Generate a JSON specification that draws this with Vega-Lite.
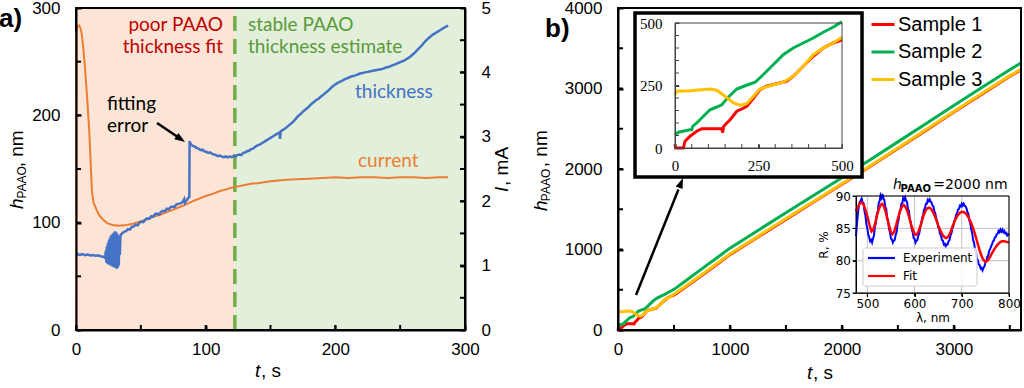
{
"$schema":"https://vega.github.io/schema/vega-lite/v6.json",
"width":1024,"height":388,"padding":0,"autosize":"none","background":"white",
"config":{"view":{"stroke":null},"axis":{"domainColor":"black","domainWidth":2,"tickColor":"black","tickWidth":2,"tickSize":-5,"labelFont":"Liberation Sans","labelFontSize":17,"labelColor":"black","labelFlush":false,"labelOverlap":false,"labelBound":false,"grid":false,"title":null}},
"datasets":{
"thick":[{"t":0.5,"h":72},{"t":1.5,"h":70.5},{"t":3,"h":70},{"t":5,"h":70.8},{"t":7,"h":69.6},{"t":9,"h":70.2},{"t":11,"h":69.4},{"t":13,"h":69.9},{"t":15,"h":69.1},{"t":17,"h":69.5},{"t":19,"h":68.7},{"t":21,"h":68.2},{"t":22.5,"h":67},{"t":23,"h":74},{"t":23.4,"h":63},{"t":23.8,"h":78},{"t":24.2,"h":62},{"t":24.6,"h":81},{"t":25,"h":61},{"t":25.4,"h":84},{"t":25.8,"h":61},{"t":26.2,"h":86},{"t":26.6,"h":60},{"t":27,"h":88},{"t":27.4,"h":60},{"t":27.8,"h":89},{"t":28.2,"h":59},{"t":28.6,"h":90},{"t":29,"h":59},{"t":29.4,"h":91},{"t":29.8,"h":58},{"t":30.2,"h":92},{"t":30.6,"h":58},{"t":31,"h":91},{"t":31.4,"h":57},{"t":31.8,"h":90},{"t":32.2,"h":58},{"t":32.6,"h":88},{"t":33,"h":60},{"t":33.4,"h":86},{"t":33.8,"h":70},{"t":34.3,"h":88},{"t":35.5,"h":90},{"t":37,"h":91.5},{"t":38.5,"h":92},{"t":40,"h":94},{"t":41.5,"h":93.5},{"t":43,"h":96},{"t":44.5,"h":96.5},{"t":46,"h":98},{"t":47.5,"h":97.5},{"t":49,"h":100},{"t":50.5,"h":101},{"t":52,"h":100.5},{"t":53.5,"h":103},{"t":55,"h":104},{"t":56.5,"h":103.5},{"t":58,"h":106},{"t":59.5,"h":105.5},{"t":61,"h":108},{"t":62.5,"h":108.5},{"t":64,"h":107.5},{"t":65.5,"h":110},{"t":67,"h":111},{"t":68.5,"h":110.5},{"t":70,"h":113},{"t":71.5,"h":112.5},{"t":73,"h":114.5},{"t":74.5,"h":115},{"t":76,"h":114.5},{"t":77.5,"h":117},{"t":79,"h":117.5},{"t":80.5,"h":118},{"t":82,"h":119},{"t":83.5,"h":122},{"t":84,"h":118.5},{"t":85.5,"h":121},{"t":86.5,"h":123},{"t":87.4,"h":124},{"t":87.6,"h":176},{"t":88.5,"h":173},{"t":90,"h":171.5},{"t":91.5,"h":171},{"t":93,"h":169.5},{"t":94.5,"h":169},{"t":96,"h":167.5},{"t":97.5,"h":168},{"t":99,"h":166.5},{"t":100.5,"h":166},{"t":102,"h":165},{"t":103.5,"h":165.5},{"t":105,"h":164},{"t":106.5,"h":163.5},{"t":108,"h":163},{"t":109.5,"h":162},{"t":111,"h":162.5},{"t":112.5,"h":161.5},{"t":114,"h":161},{"t":115.5,"h":161.8},{"t":117,"h":160.8},{"t":118.5,"h":161.5},{"t":120,"h":161},{"t":121.5,"h":162},{"t":123,"h":161.5},{"t":124.5,"h":163},{"t":126,"h":163.5},{"t":127.5,"h":163},{"t":129,"h":165},{"t":130.5,"h":165.5},{"t":132,"h":166.5},{"t":133.5,"h":167},{"t":135,"h":168.5},{"t":136.5,"h":169},{"t":138,"h":170.5},{"t":140,"h":172},{"t":142,"h":173},{"t":144,"h":174.5},{"t":146,"h":176},{"t":148,"h":177.5},{"t":150,"h":179},{"t":152,"h":180.5},{"t":154,"h":182},{"t":156,"h":183.5},{"t":157,"h":184},{"t":157.4,"h":178},{"t":157.8,"h":185},{"t":159,"h":186},{"t":161,"h":187.5},{"t":163,"h":189.5},{"t":165,"h":191.5},{"t":167,"h":193.5},{"t":169,"h":196},{"t":171,"h":199},{"t":173,"h":201},{"t":175,"h":203.5},{"t":177,"h":205.5},{"t":179,"h":207.5},{"t":181,"h":210},{"t":183,"h":212},{"t":185,"h":214},{"t":187,"h":215.5},{"t":189,"h":217.5},{"t":191,"h":219.5},{"t":193,"h":221.5},{"t":195,"h":223.5},{"t":197,"h":226},{"t":199,"h":228},{"t":201,"h":229.5},{"t":203,"h":231},{"t":205,"h":232},{"t":207,"h":233.5},{"t":209,"h":234.5},{"t":211,"h":235.5},{"t":213,"h":236.5},{"t":215,"h":237},{"t":217,"h":238},{"t":219,"h":239},{"t":221,"h":239.5},{"t":223,"h":240},{"t":225,"h":240.5},{"t":227,"h":241},{"t":229,"h":241.5},{"t":231,"h":242},{"t":233,"h":242.5},{"t":235,"h":243},{"t":237,"h":243.5},{"t":239,"h":244.5},{"t":241,"h":245},{"t":243,"h":246},{"t":245,"h":247},{"t":247,"h":248},{"t":249,"h":249},{"t":251,"h":250},{"t":253,"h":251},{"t":255,"h":252.5},{"t":257,"h":254},{"t":259,"h":256},{"t":261,"h":258},{"t":263,"h":260.5},{"t":265,"h":263},{"t":267,"h":265.5},{"t":269,"h":268.5},{"t":271,"h":271},{"t":273,"h":273},{"t":275,"h":275},{"t":277,"h":276.5},{"t":279,"h":278},{"t":281,"h":279.5},{"t":283,"h":281},{"t":285,"h":282.5},{"t":287,"h":283.5}],
"curr":[{"t":0,"i":0},{"t":0.3,"i":4.6},{"t":1,"i":4.72},{"t":2.5,"i":4.73},{"t":3.5,"i":4.68},{"t":4.4,"i":4.6},{"t":5.5,"i":4.4},{"t":6.9,"i":4.08},{"t":8.7,"i":3.57},{"t":10.3,"i":3.06},{"t":11.3,"i":2.6},{"t":12.3,"i":2.15},{"t":13.5,"i":1.98},{"t":16,"i":1.86},{"t":18,"i":1.78},{"t":21,"i":1.71},{"t":24,"i":1.66},{"t":28,"i":1.63},{"t":33,"i":1.62},{"t":39,"i":1.63},{"t":44,"i":1.65},{"t":49,"i":1.68},{"t":55,"i":1.72},{"t":60,"i":1.76},{"t":65,"i":1.79},{"t":70,"i":1.83},{"t":75,"i":1.87},{"t":80,"i":1.91},{"t":85,"i":1.95},{"t":90,"i":2.0},{"t":95,"i":2.04},{"t":100,"i":2.08},{"t":105,"i":2.11},{"t":110,"i":2.15},{"t":115,"i":2.18},{"t":120,"i":2.21},{"t":125,"i":2.23},{"t":130,"i":2.25},{"t":135,"i":2.27},{"t":140,"i":2.28},{"t":150,"i":2.31},{"t":160,"i":2.33},{"t":170,"i":2.34},{"t":180,"i":2.35},{"t":190,"i":2.36},{"t":200,"i":2.37},{"t":210,"i":2.36},{"t":220,"i":2.37},{"t":230,"i":2.37},{"t":240,"i":2.36},{"t":250,"i":2.37},{"t":260,"i":2.37},{"t":270,"i":2.36},{"t":280,"i":2.37},{"t":287,"i":2.37}],
"samp":[{"s":"Sample 1","t":0,"h":15},{"s":"Sample 1","t":2,"h":0},{"s":"Sample 1","t":25,"h":0},{"s":"Sample 1","t":30,"h":27},{"s":"Sample 1","t":45,"h":47},{"s":"Sample 1","t":65,"h":67},{"s":"Sample 1","t":80,"h":77},{"s":"Sample 1","t":140,"h":77},{"s":"Sample 1","t":143,"h":62},{"s":"Sample 1","t":145,"h":85},{"s":"Sample 1","t":150,"h":93},{"s":"Sample 1","t":165,"h":113},{"s":"Sample 1","t":185,"h":147},{"s":"Sample 1","t":200,"h":156},{"s":"Sample 1","t":215,"h":167},{"s":"Sample 1","t":235,"h":200},{"s":"Sample 1","t":254,"h":233},{"s":"Sample 1","t":274,"h":247},{"s":"Sample 1","t":304,"h":257},{"s":"Sample 1","t":334,"h":267},{"s":"Sample 1","t":354,"h":287},{"s":"Sample 1","t":384,"h":327},{"s":"Sample 1","t":414,"h":367},{"s":"Sample 1","t":444,"h":400},{"s":"Sample 1","t":474,"h":420},{"s":"Sample 1","t":500,"h":433},{"s":"Sample 1","t":600,"h":530},{"s":"Sample 1","t":700,"h":630},{"s":"Sample 1","t":800,"h":730},{"s":"Sample 1","t":900,"h":833},{"s":"Sample 1","t":1000,"h":936},{"s":"Sample 1","t":1250,"h":1155},{"s":"Sample 1","t":1500,"h":1374},{"s":"Sample 1","t":1750,"h":1592},{"s":"Sample 1","t":2000,"h":1810},{"s":"Sample 1","t":2250,"h":2030},{"s":"Sample 1","t":2500,"h":2254},{"s":"Sample 1","t":2750,"h":2479},{"s":"Sample 1","t":3000,"h":2707},{"s":"Sample 1","t":3250,"h":2930},{"s":"Sample 1","t":3500,"h":3152},{"s":"Sample 1","t":3600,"h":3232},
{"s":"Sample 2","t":0,"h":53},{"s":"Sample 2","t":10,"h":63},{"s":"Sample 2","t":45,"h":73},{"s":"Sample 2","t":50,"h":73},{"s":"Sample 2","t":53,"h":87},{"s":"Sample 2","t":65,"h":100},{"s":"Sample 2","t":85,"h":127},{"s":"Sample 2","t":105,"h":153},{"s":"Sample 2","t":125,"h":164},{"s":"Sample 2","t":140,"h":173},{"s":"Sample 2","t":160,"h":204},{"s":"Sample 2","t":185,"h":236},{"s":"Sample 2","t":210,"h":249},{"s":"Sample 2","t":240,"h":263},{"s":"Sample 2","t":264,"h":293},{"s":"Sample 2","t":294,"h":333},{"s":"Sample 2","t":324,"h":373},{"s":"Sample 2","t":354,"h":400},{"s":"Sample 2","t":384,"h":420},{"s":"Sample 2","t":414,"h":440},{"s":"Sample 2","t":444,"h":463},{"s":"Sample 2","t":474,"h":484},{"s":"Sample 2","t":500,"h":505},{"s":"Sample 2","t":600,"h":605},{"s":"Sample 2","t":700,"h":710},{"s":"Sample 2","t":800,"h":812},{"s":"Sample 2","t":900,"h":914},{"s":"Sample 2","t":1000,"h":1017},{"s":"Sample 2","t":1250,"h":1237},{"s":"Sample 2","t":1500,"h":1456},{"s":"Sample 2","t":1750,"h":1674},{"s":"Sample 2","t":2000,"h":1892},{"s":"Sample 2","t":2250,"h":2112},{"s":"Sample 2","t":2500,"h":2337},{"s":"Sample 2","t":2750,"h":2562},{"s":"Sample 2","t":3000,"h":2790},{"s":"Sample 2","t":3250,"h":3012},{"s":"Sample 2","t":3500,"h":3232},{"s":"Sample 2","t":3600,"h":3317},
{"s":"Sample 3","t":0,"h":213},{"s":"Sample 3","t":5,"h":227},{"s":"Sample 3","t":45,"h":229},{"s":"Sample 3","t":105,"h":236},{"s":"Sample 3","t":125,"h":231},{"s":"Sample 3","t":150,"h":207},{"s":"Sample 3","t":175,"h":180},{"s":"Sample 3","t":195,"h":171},{"s":"Sample 3","t":215,"h":177},{"s":"Sample 3","t":235,"h":207},{"s":"Sample 3","t":254,"h":236},{"s":"Sample 3","t":284,"h":249},{"s":"Sample 3","t":324,"h":263},{"s":"Sample 3","t":354,"h":287},{"s":"Sample 3","t":384,"h":327},{"s":"Sample 3","t":414,"h":373},{"s":"Sample 3","t":444,"h":400},{"s":"Sample 3","t":474,"h":420},{"s":"Sample 3","t":500,"h":443},{"s":"Sample 3","t":600,"h":540},{"s":"Sample 3","t":700,"h":640},{"s":"Sample 3","t":800,"h":740},{"s":"Sample 3","t":900,"h":842},{"s":"Sample 3","t":1000,"h":945},{"s":"Sample 3","t":1250,"h":1163},{"s":"Sample 3","t":1500,"h":1382},{"s":"Sample 3","t":1750,"h":1600},{"s":"Sample 3","t":2000,"h":1818},{"s":"Sample 3","t":2250,"h":2038},{"s":"Sample 3","t":2500,"h":2262},{"s":"Sample 3","t":2750,"h":2487},{"s":"Sample 3","t":3000,"h":2715},{"s":"Sample 3","t":3250,"h":2938},{"s":"Sample 3","t":3500,"h":3160},{"s":"Sample 3","t":3600,"h":3240}],
"fit":[{"l":476,"r":87.6},{"l":480,"r":88.3},{"l":484,"r":88.85},{"l":488,"r":89.0},{"l":492,"r":88.7},{"l":496,"r":87.9},{"l":500,"r":86.9},{"l":504,"r":85.7},{"l":507,"r":84.9},{"l":509,"r":84.5},{"l":512,"r":84.7},{"l":516,"r":85.6},{"l":520,"r":86.8},{"l":524,"r":87.9},{"l":528,"r":88.6},{"l":531,"r":88.8},{"l":535,"r":88.4},{"l":539,"r":87.5},{"l":543,"r":86.3},{"l":547,"r":85.1},{"l":550,"r":84.4},{"l":553,"r":84.1},{"l":557,"r":84.5},{"l":561,"r":85.5},{"l":565,"r":86.6},{"l":569,"r":87.6},{"l":573,"r":88.3},{"l":577,"r":88.6},{"l":581,"r":88.3},{"l":585,"r":87.6},{"l":589,"r":86.6},{"l":593,"r":85.5},{"l":597,"r":84.6},{"l":600,"r":84.15},{"l":603,"r":84.0},{"l":607,"r":84.3},{"l":611,"r":85.0},{"l":615,"r":86.0},{"l":619,"r":87.0},{"l":623,"r":87.7},{"l":627,"r":88.1},{"l":631,"r":88.2},{"l":635,"r":88.0},{"l":640,"r":87.4},{"l":645,"r":86.5},{"l":650,"r":85.5},{"l":655,"r":84.6},{"l":660,"r":83.9},{"l":664,"r":83.6},{"l":667,"r":83.5},{"l":671,"r":83.7},{"l":676,"r":84.4},{"l":681,"r":85.4},{"l":686,"r":86.3},{"l":691,"r":87.0},{"l":696,"r":87.4},{"l":700,"r":87.55},{"l":705,"r":87.5},{"l":710,"r":87.2},{"l":715,"r":86.6},{"l":720,"r":85.8},{"l":725,"r":84.8},{"l":730,"r":83.6},{"l":735,"r":82.3},{"l":740,"r":81.1},{"l":745,"r":80.2},{"l":750,"r":79.8},{"l":755,"r":80.0},{"l":760,"r":80.6},{"l":765,"r":81.3},{"l":770,"r":81.9},{"l":775,"r":82.4},{"l":780,"r":82.8},{"l":785,"r":83.0},{"l":790,"r":83.0},{"l":795,"r":82.9},{"l":800,"r":82.8}],
"exp":[{"l":476,"r":83.8},{"l":478,"r":85.6},{"l":480,"r":87.2},{"l":482,"r":88.4},{"l":484,"r":89.1},{"l":486,"r":89.3},{"l":488,"r":89.6},{"l":490,"r":89.0},{"l":492,"r":88.9},{"l":494,"r":87.6},{"l":496,"r":87.0},{"l":498,"r":85.6},{"l":500,"r":85.0},{"l":502,"r":84.0},{"l":504,"r":83.6},{"l":506,"r":83.0},{"l":508,"r":83.2},{"l":510,"r":82.8},{"l":512,"r":83.4},{"l":514,"r":83.9},{"l":516,"r":85.2},{"l":518,"r":85.8},{"l":520,"r":87.2},{"l":522,"r":87.6},{"l":524,"r":88.9},{"l":526,"r":89.2},{"l":528,"r":90.1},{"l":530,"r":89.7},{"l":532,"r":90.3},{"l":534,"r":89.6},{"l":536,"r":89.4},{"l":538,"r":88.3},{"l":540,"r":88.0},{"l":542,"r":86.6},{"l":544,"r":86.1},{"l":546,"r":84.9},{"l":548,"r":84.4},{"l":550,"r":83.4},{"l":552,"r":83.3},{"l":554,"r":82.8},{"l":556,"r":83.1},{"l":558,"r":83.2},{"l":560,"r":84.0},{"l":562,"r":84.4},{"l":564,"r":85.7},{"l":566,"r":86.2},{"l":568,"r":87.4},{"l":570,"r":87.8},{"l":572,"r":88.8},{"l":574,"r":88.9},{"l":576,"r":89.7},{"l":578,"r":89.4},{"l":580,"r":89.8},{"l":582,"r":89.3},{"l":584,"r":89.1},{"l":586,"r":88.0},{"l":588,"r":87.7},{"l":590,"r":86.4},{"l":592,"r":86.0},{"l":594,"r":84.9},{"l":596,"r":84.4},{"l":598,"r":83.5},{"l":600,"r":83.4},{"l":602,"r":82.8},{"l":604,"r":83.1},{"l":606,"r":83.2},{"l":608,"r":83.9},{"l":610,"r":84.2},{"l":612,"r":85.2},{"l":614,"r":85.6},{"l":616,"r":86.6},{"l":618,"r":87.0},{"l":620,"r":87.9},{"l":622,"r":88.1},{"l":624,"r":88.8},{"l":626,"r":88.8},{"l":628,"r":89.4},{"l":630,"r":89.2},{"l":632,"r":89.5},{"l":634,"r":89.1},{"l":636,"r":89.0},{"l":638,"r":88.5},{"l":640,"r":88.4},{"l":642,"r":87.6},{"l":644,"r":87.3},{"l":646,"r":86.5},{"l":648,"r":86.1},{"l":650,"r":85.2},{"l":652,"r":84.9},{"l":654,"r":84.1},{"l":656,"r":83.9},{"l":658,"r":83.2},{"l":660,"r":83.1},{"l":662,"r":82.5},{"l":664,"r":82.6},{"l":666,"r":82.2},{"l":668,"r":82.5},{"l":670,"r":82.5},{"l":672,"r":83.0},{"l":674,"r":83.2},{"l":676,"r":83.9},{"l":678,"r":84.2},{"l":680,"r":85.0},{"l":682,"r":85.3},{"l":684,"r":86.1},{"l":686,"r":86.4},{"l":688,"r":87.1},{"l":690,"r":87.3},{"l":692,"r":87.9},{"l":694,"r":88.0},{"l":696,"r":88.5},{"l":698,"r":88.4},{"l":700,"r":88.8},{"l":702,"r":88.5},{"l":704,"r":88.8},{"l":706,"r":88.5},{"l":708,"r":88.4},{"l":710,"r":88.1},{"l":712,"r":87.5},{"l":714,"r":87.2},{"l":716,"r":86.2},{"l":718,"r":85.8},{"l":720,"r":84.8},{"l":722,"r":84.3},{"l":724,"r":83.2},{"l":726,"r":82.8},{"l":728,"r":81.7},{"l":730,"r":81.3},{"l":732,"r":80.4},{"l":734,"r":80.1},{"l":736,"r":79.4},{"l":738,"r":79.3},{"l":740,"r":78.8},{"l":742,"r":78.9},{"l":744,"r":78.5},{"l":746,"r":78.9},{"l":748,"r":79.1},{"l":750,"r":79.7},{"l":752,"r":79.9},{"l":754,"r":80.6},{"l":756,"r":80.8},{"l":758,"r":81.5},{"l":760,"r":81.8},{"l":762,"r":82.2},{"l":764,"r":82.5},{"l":766,"r":83.0},{"l":768,"r":83.1},{"l":770,"r":83.6},{"l":772,"r":83.7},{"l":774,"r":84.1},{"l":776,"r":84.2},{"l":778,"r":84.6},{"l":780,"r":84.4},{"l":782,"r":84.8},{"l":784,"r":84.5},{"l":786,"r":84.8},{"l":788,"r":84.4},{"l":790,"r":84.6},{"l":792,"r":84.2},{"l":794,"r":84.3},{"l":796,"r":83.9},{"l":798,"r":84.1},{"l":800,"r":83.9}]
},
"layer":[
{"data":{"values":[{"x0":0,"x1":122.5,"y0":0,"y1":300,"zone":"poor"},{"x0":122.5,"x1":300,"y0":0,"y1":300,"zone":"stable"}]},
 "mark":{"type":"rect"},
 "encoding":{"x":{"field":"x0","type":"quantitative","scale":{"domain":[0,300],"range":[76,465],"nice":false,"zero":false},"axis":null},"x2":{"field":"x1"},
  "y":{"field":"y0","type":"quantitative","scale":{"domain":[0,300],"range":[330,8],"nice":false,"zero":false},"axis":null},"y2":{"field":"y1"},
  "color":{"field":"zone","type":"nominal","scale":{"domain":["poor","stable"],"range":["#FCE4D6","#E2EFDA"]},"legend":null}}},
{"data":{"values":[{"t":122.5,"y0":0,"y1":300}]},
 "mark":{"type":"rule","color":"#70AD47","strokeWidth":3.5,"strokeDash":[15,8]},
 "encoding":{"x":{"field":"t","type":"quantitative","scale":{"domain":[0,300],"range":[76,465],"nice":false,"zero":false},"axis":null},
  "y":{"field":"y0","type":"quantitative","scale":{"domain":[0,300],"range":[330,8],"nice":false,"zero":false},"axis":null},"y2":{"field":"y1"}}},
{"data":{"values":[{"x0":0,"x1":300,"y0":0,"y1":300}]},
 "mark":{"type":"rect","filled":false,"stroke":"black","strokeWidth":2},
 "encoding":{"x":{"field":"x0","type":"quantitative","scale":{"domain":[0,300],"range":[76,465],"nice":false,"zero":false},"axis":null},"x2":{"field":"x1"},
  "y":{"field":"y0","type":"quantitative","scale":{"domain":[0,300],"range":[330,8],"nice":false,"zero":false},"axis":null},"y2":{"field":"y1"}}},
{"data":{"name":"curr"},
 "mark":{"type":"line","color":"#ED7D31","strokeWidth":2},
 "encoding":{"x":{"field":"t","type":"quantitative","scale":{"domain":[0,300],"range":[76,465],"nice":false,"zero":false},"axis":null},
  "y":{"field":"i","type":"quantitative","scale":{"domain":[0,5],"range":[330,8],"nice":false,"zero":false},
   "axis":{"orient":"right","offset":-559,"values":[0,1,2,3,4,5],"labelExpr":"format(datum.value, 'd')","labelPadding":21,"zindex":1}}}},
{"data":{"name":"thick"},
 "mark":{"type":"line","color":"#4472C4","strokeWidth":2.5},
 "encoding":{"x":{"field":"t","type":"quantitative","scale":{"domain":[0,300],"range":[76,465],"nice":false,"zero":false},
   "axis":{"orient":"bottom","offset":-58,"values":[0,100,200,300],"labelExpr":"format(datum.value, 'd')","labelPadding":16,"zindex":1}},
  "y":{"field":"h","type":"quantitative","scale":{"domain":[0,300],"range":[330,8],"nice":false,"zero":false},
   "axis":{"orient":"left","offset":-76,"values":[0,100,200,300],"labelExpr":"format(datum.value, 'd')","labelPadding":21,"zindex":1}}}},
{"data":{"values":[{"t":0},{"t":50},{"t":100},{"t":150},{"t":200},{"t":250},{"t":300}]},
 "mark":{"type":"rule","color":"black","strokeWidth":2},
 "encoding":{"x":{"field":"t","type":"quantitative","scale":{"domain":[0,300],"range":[76,465],"nice":false,"zero":false},"axis":null},
  "y":{"datum":0,"type":"quantitative","scale":{"domain":[0,300],"range":[330,8],"nice":false,"zero":false},"axis":null},"y2":{"datum":4.7}}},
{"data":{"values":[{"h":0},{"h":50},{"h":100},{"h":150},{"h":200},{"h":250},{"h":300}]},
 "mark":{"type":"rule","color":"black","strokeWidth":2},
 "encoding":{"y":{"field":"h","type":"quantitative","scale":{"domain":[0,300],"range":[330,8],"nice":false,"zero":false},"axis":null},
  "x":{"datum":0,"type":"quantitative","scale":{"domain":[0,300],"range":[76,465],"nice":false,"zero":false},"axis":null},"x2":{"datum":3.9}}},
{"data":{"values":[{"i":0},{"i":0.5},{"i":1},{"i":1.5},{"i":2},{"i":2.5},{"i":3},{"i":3.5},{"i":4},{"i":4.5},{"i":5}]},
 "mark":{"type":"rule","color":"black","strokeWidth":2},
 "encoding":{"y":{"field":"i","type":"quantitative","scale":{"domain":[0,5],"range":[330,8],"nice":false,"zero":false},"axis":null},
  "x":{"datum":300,"type":"quantitative","scale":{"domain":[0,300],"range":[76,465],"nice":false,"zero":false},"axis":null},"x2":{"datum":296.1}}},
{"data":{"values":[{"t":113.4,"h":278.9,"txt":"poor PAAO"},{"t":113.4,"h":258.1,"txt":"thickness fit"}]},
 "mark":{"type":"text","align":"right","baseline":"alphabetic","font":"Lato","fontSize":19,"color":"#C00000"},
 "encoding":{"x":{"field":"t","type":"quantitative","scale":{"domain":[0,300],"range":[76,465],"nice":false,"zero":false},"axis":null},
  "y":{"field":"h","type":"quantitative","scale":{"domain":[0,300],"range":[330,8],"nice":false,"zero":false},"axis":null},"text":{"field":"txt"}}},
{"data":{"values":[{"t":132.6,"h":278.9,"txt":"stable PAAO","g":"stable"},{"t":132.6,"h":258.1,"txt":"thickness estimate","g":"stable"},{"t":23.9,"h":205,"txt":"fitting","g":"note"},{"t":23.9,"h":184.8,"txt":"error","g":"note"},{"t":215.2,"h":215.9,"txt":"thickness","g":"thick"},{"t":217.5,"h":152.2,"txt":"current","g":"curr"}]},
 "mark":{"type":"text","align":"left","baseline":"alphabetic","font":"Lato","fontSize":19},
 "encoding":{"x":{"field":"t","type":"quantitative","scale":{"domain":[0,300],"range":[76,465],"nice":false,"zero":false},"axis":null},
  "y":{"field":"h","type":"quantitative","scale":{"domain":[0,300],"range":[330,8],"nice":false,"zero":false},"axis":null},"text":{"field":"txt"},
  "color":{"field":"g","type":"nominal","scale":{"domain":["stable","note","thick","curr"],"range":["#5A9A3A","#000000","#4472C4","#ED7D31"]},"legend":null}}},
{"data":{"values":[{"t":62.5,"h":192.9,"t2":80.5,"h2":178.2}]},
 "mark":{"type":"rule","color":"black","strokeWidth":2.5},
 "encoding":{"x":{"field":"t","type":"quantitative","scale":{"domain":[0,300],"range":[76,465],"nice":false,"zero":false},"axis":null},"x2":{"field":"t2"},
  "y":{"field":"h","type":"quantitative","scale":{"domain":[0,300],"range":[330,8],"nice":false,"zero":false},"axis":null},"y2":{"field":"h2"}}},
{"data":{"values":[{"t":84.1,"h":175.2}]},
 "mark":{"type":"point","shape":"M0,0L-0.7,2L0.7,2Z","filled":true,"color":"black","opacity":1,"size":110,"angle":124},
 "encoding":{"x":{"field":"t","type":"quantitative","scale":{"domain":[0,300],"range":[76,465],"nice":false,"zero":false},"axis":null},
  "y":{"field":"h","type":"quantitative","scale":{"domain":[0,300],"range":[330,8],"nice":false,"zero":false},"axis":null}}},
{"data":{"values":[{"t":-40.9,"h":112.7,"txt":"h"},{"t":333.2,"h":128.6,"txt":"I"}]},
 "mark":{"type":"text","align":"left","baseline":"alphabetic","angle":270,"font":"Liberation Sans","fontSize":19,"fontStyle":"italic","color":"black"},
 "encoding":{"x":{"field":"t","type":"quantitative","scale":{"domain":[0,300],"range":[76,465],"nice":false,"zero":false},"axis":null},
  "y":{"field":"h","type":"quantitative","scale":{"domain":[0,300],"range":[330,8],"nice":false,"zero":false},"axis":null},"text":{"field":"txt"}}},
{"data":{"values":[{"t":-38.6,"h":122.5,"txt":"PAAO"}]},
 "mark":{"type":"text","align":"left","baseline":"alphabetic","angle":270,"font":"Liberation Sans","fontSize":12,"color":"black"},
 "encoding":{"x":{"field":"t","type":"quantitative","scale":{"domain":[0,300],"range":[76,465],"nice":false,"zero":false},"axis":null},
  "y":{"field":"h","type":"quantitative","scale":{"domain":[0,300],"range":[330,8],"nice":false,"zero":false},"axis":null},"text":{"field":"txt"}}},
{"data":{"values":[{"t":-40.9,"h":151.6,"txt":", nm"},{"t":333.2,"h":134.2,"txt":", mA"}]},
 "mark":{"type":"text","align":"left","baseline":"alphabetic","angle":270,"font":"Liberation Sans","fontSize":19,"color":"black"},
 "encoding":{"x":{"field":"t","type":"quantitative","scale":{"domain":[0,300],"range":[76,465],"nice":false,"zero":false},"axis":null},
  "y":{"field":"h","type":"quantitative","scale":{"domain":[0,300],"range":[330,8],"nice":false,"zero":false},"axis":null},"text":{"field":"txt"}}},
{"data":{"values":[{"t":138,"h":-43.8,"txt":"t"}]},
 "mark":{"type":"text","align":"left","baseline":"alphabetic","font":"Liberation Sans","fontSize":19,"fontStyle":"italic","color":"black"},
 "encoding":{"x":{"field":"t","type":"quantitative","scale":{"domain":[0,300],"range":[76,465],"nice":false,"zero":false},"axis":null},
  "y":{"field":"h","type":"quantitative","scale":{"domain":[0,300],"range":[330,8],"nice":false,"zero":false},"axis":null},"text":{"field":"txt"}}},
{"data":{"values":[{"t":142.7,"h":-43.8,"txt":", s"}]},
 "mark":{"type":"text","align":"left","baseline":"alphabetic","font":"Liberation Sans","fontSize":19,"color":"black"},
 "encoding":{"x":{"field":"t","type":"quantitative","scale":{"domain":[0,300],"range":[76,465],"nice":false,"zero":false},"axis":null},
  "y":{"field":"h","type":"quantitative","scale":{"domain":[0,300],"range":[330,8],"nice":false,"zero":false},"axis":null},"text":{"field":"txt"}}},
{"data":{"values":[{"t":-59.4,"h":282.3,"txt":"a)"}]},
 "mark":{"type":"text","align":"left","baseline":"alphabetic","font":"Liberation Sans","fontSize":26,"fontWeight":"bold","color":"black"},
 "encoding":{"x":{"field":"t","type":"quantitative","scale":{"domain":[0,300],"range":[76,465],"nice":false,"zero":false},"axis":null},
  "y":{"field":"h","type":"quantitative","scale":{"domain":[0,300],"range":[330,8],"nice":false,"zero":false},"axis":null},"text":{"field":"txt"}}},

{"data":{"name":"samp"},
 "mark":{"type":"line","strokeWidth":3},
 "encoding":{"x":{"field":"t","type":"quantitative","scale":{"domain":[0,3600],"range":[618,1021],"nice":false,"zero":false},
   "axis":{"orient":"bottom","offset":-58,"values":[0,1000,2000,3000],"labelExpr":"format(datum.value, 'd')","labelPadding":16,"zindex":1}},
  "y":{"field":"h","type":"quantitative","scale":{"domain":[0,4000],"range":[330,8],"nice":false,"zero":false},
   "axis":{"orient":"left","offset":-618,"values":[0,1000,2000,3000,4000],"labelExpr":"format(datum.value, 'd')","labelPadding":21,"zindex":1}},
  "color":{"field":"s","type":"nominal","scale":{"domain":["Sample 1","Sample 2","Sample 3"],"range":["#FF0000","#00B050","#FFC000"]},
   "legend":{"orient":"none","legendX":870,"legendY":11.5,"title":null,"symbolType":"stroke","symbolSize":529,"symbolStrokeWidth":3,"labelFont":"Liberation Sans","labelFontSize":20,"labelColor":"black","labelOffset":2,"rowPadding":4.5,"padding":0}}}},
{"data":{"values":[{"x0":0,"x1":3600,"y0":0,"y1":4000}]},
 "mark":{"type":"rect","filled":false,"stroke":"black","strokeWidth":2},
 "encoding":{"x":{"field":"x0","type":"quantitative","scale":{"domain":[0,3600],"range":[618,1021],"nice":false,"zero":false},"axis":null},"x2":{"field":"x1"},
  "y":{"field":"y0","type":"quantitative","scale":{"domain":[0,4000],"range":[330,8],"nice":false,"zero":false},"axis":null},"y2":{"field":"y1"}}},
{"data":{"values":[{"t":0},{"t":500},{"t":1000},{"t":1500},{"t":2000},{"t":2500},{"t":3000},{"t":3500}]},
 "mark":{"type":"rule","color":"black","strokeWidth":2},
 "encoding":{"x":{"field":"t","type":"quantitative","scale":{"domain":[0,3600],"range":[618,1021],"nice":false,"zero":false},"axis":null},
  "y":{"datum":0,"type":"quantitative","scale":{"domain":[0,4000],"range":[330,8],"nice":false,"zero":false},"axis":null},"y2":{"datum":62}}},
{"data":{"values":[{"h":0},{"h":500},{"h":1000},{"h":1500},{"h":2000},{"h":2500},{"h":3000},{"h":3500},{"h":4000}]},
 "mark":{"type":"rule","color":"black","strokeWidth":2},
 "encoding":{"y":{"field":"h","type":"quantitative","scale":{"domain":[0,4000],"range":[330,8],"nice":false,"zero":false},"axis":null},
  "x":{"datum":0,"type":"quantitative","scale":{"domain":[0,3600],"range":[618,1021],"nice":false,"zero":false},"axis":null},"x2":{"datum":45}}},
{"data":{"values":[{"x0":152,"x1":2180,"y0":1901,"y1":3938}]},
 "mark":{"type":"rect","fill":"white","stroke":"black","strokeWidth":3.5},
 "encoding":{"x":{"field":"x0","type":"quantitative","scale":{"domain":[0,3600],"range":[618,1021],"nice":false,"zero":false},"axis":null},"x2":{"field":"x1"},
  "y":{"field":"y0","type":"quantitative","scale":{"domain":[0,4000],"range":[330,8],"nice":false,"zero":false},"axis":null},"y2":{"field":"y1"}}},
{"data":{"values":[{"t":161,"h":435,"t2":540,"h2":1745}]},
 "mark":{"type":"rule","color":"black","strokeWidth":2.5},
 "encoding":{"x":{"field":"t","type":"quantitative","scale":{"domain":[0,3600],"range":[618,1021],"nice":false,"zero":false},"axis":null},"x2":{"field":"t2"},
  "y":{"field":"h","type":"quantitative","scale":{"domain":[0,4000],"range":[330,8],"nice":false,"zero":false},"axis":null},"y2":{"field":"h2"}}},
{"data":{"values":[{"t":581,"h":1888}]},
 "mark":{"type":"point","shape":"M0,0L-0.7,2L0.7,2Z","filled":true,"color":"black","opacity":1,"size":110,"angle":21.9},
 "encoding":{"x":{"field":"t","type":"quantitative","scale":{"domain":[0,3600],"range":[618,1021],"nice":false,"zero":false},"axis":null},
  "y":{"field":"h","type":"quantitative","scale":{"domain":[0,4000],"range":[330,8],"nice":false,"zero":false},"axis":null}}},
{"data":{"name":"samp"},
 "transform":[{"filter":"datum.t <= 500"}],
 "mark":{"type":"line","strokeWidth":3},
 "encoding":{"x":{"field":"t","type":"quantitative","scale":{"domain":[0,500],"range":[675,842],"nice":false,"zero":false},
   "axis":{"orient":"bottom","offset":-240,"values":[0,250,500],"labelExpr":"format(datum.value, 'd')","tickSize":-4,"tickWidth":1,"tickColor":"#444","domainWidth":1,"domainColor":"#444","labelFont":"Liberation Serif","labelFontSize":15,"labelPadding":14,"zindex":2}},
  "y":{"field":"h","type":"quantitative","scale":{"domain":[0,500],"range":[148,23],"nice":false,"zero":false},
   "axis":{"orient":"left","offset":-675,"values":[0,250,500],"labelExpr":"format(datum.value, 'd')","tickSize":-4,"tickWidth":1,"tickColor":"#444","domainWidth":1,"domainColor":"#444","labelFont":"Liberation Serif","labelFontSize":15,"labelPadding":17,"zindex":2}},
  "color":{"field":"s","type":"nominal","scale":{"domain":["Sample 1","Sample 2","Sample 3"],"range":["#FF0000","#00B050","#FFC000"]},"legend":null}}},
{"data":{"values":[{"x0":0,"x1":500,"y0":0,"y1":500}]},
 "mark":{"type":"rect","filled":false,"stroke":"#444","strokeWidth":1},
 "encoding":{"x":{"field":"x0","type":"quantitative","scale":{"domain":[0,500],"range":[675,842],"nice":false,"zero":false},"axis":null},"x2":{"field":"x1"},
  "y":{"field":"y0","type":"quantitative","scale":{"domain":[0,500],"range":[148,23],"nice":false,"zero":false},"axis":null},"y2":{"field":"y1"}}},
{"data":{"values":[{"t":0},{"t":50},{"t":100},{"t":150},{"t":200},{"t":250},{"t":300},{"t":350},{"t":400},{"t":450},{"t":500}]},
 "mark":{"type":"rule","color":"#444","strokeWidth":1},
 "encoding":{"x":{"field":"t","type":"quantitative","scale":{"domain":[0,500],"range":[675,842],"nice":false,"zero":false},"axis":null},
  "y":{"datum":0,"type":"quantitative","scale":{"domain":[0,500],"range":[148,23],"nice":false,"zero":false},"axis":null},"y2":{"datum":16}}},
{"data":{"values":[{"h":0},{"h":50},{"h":100},{"h":150},{"h":200},{"h":250},{"h":300},{"h":350},{"h":400},{"h":450},{"h":500}]},
 "mark":{"type":"rule","color":"#444","strokeWidth":1},
 "encoding":{"y":{"field":"h","type":"quantitative","scale":{"domain":[0,500],"range":[148,23],"nice":false,"zero":false},"axis":null},
  "x":{"datum":0,"type":"quantitative","scale":{"domain":[0,500],"range":[675,842],"nice":false,"zero":false},"axis":null},"x2":{"datum":12}}},
{"data":{"values":[{"l":500},{"l":600},{"l":700},{"l":800}]},
 "mark":{"type":"rule","color":"#b0b0b0","strokeWidth":0.8},
 "encoding":{"x":{"field":"l","type":"quantitative","scale":{"domain":[476,800],"range":[856,1009],"nice":false,"zero":false},"axis":null},
  "y":{"datum":75,"type":"quantitative","scale":{"domain":[75,90],"range":[293,196],"nice":false,"zero":false},"axis":null},"y2":{"datum":90}}},
{"data":{"values":[{"r":75},{"r":80},{"r":85},{"r":90}]},
 "mark":{"type":"rule","color":"#b0b0b0","strokeWidth":0.8},
 "encoding":{"y":{"field":"r","type":"quantitative","scale":{"domain":[75,90],"range":[293,196],"nice":false,"zero":false},"axis":null},
  "x":{"datum":476,"type":"quantitative","scale":{"domain":[476,800],"range":[856,1009],"nice":false,"zero":false},"axis":null},"x2":{"datum":800}}},
{"data":{"values":[{"l":500},{"l":600},{"l":700},{"l":800}]},
 "mark":{"type":"rule","color":"black","strokeWidth":1},
 "encoding":{"x":{"field":"l","type":"quantitative","scale":{"domain":[476,800],"range":[856,1009],"nice":false,"zero":false},"axis":null},
  "y":{"datum":75,"type":"quantitative","scale":{"domain":[75,90],"range":[293,196],"nice":false,"zero":false},"axis":null},"y2":{"datum":74.45}}},
{"data":{"values":[{"r":75},{"r":80},{"r":85},{"r":90}]},
 "mark":{"type":"rule","color":"black","strokeWidth":1},
 "encoding":{"y":{"field":"r","type":"quantitative","scale":{"domain":[75,90],"range":[293,196],"nice":false,"zero":false},"axis":null},
  "x":{"datum":476,"type":"quantitative","scale":{"domain":[476,800],"range":[856,1009],"nice":false,"zero":false},"axis":null},"x2":{"datum":468.6}}},
{"data":{"name":"exp"},
 "mark":{"type":"line","color":"#0000FF","strokeWidth":2},
 "encoding":{"x":{"field":"l","type":"quantitative","scale":{"domain":[476,800],"range":[856,1009],"nice":false,"zero":false},"axis":null},
  "y":{"field":"r","type":"quantitative","scale":{"domain":[75,90],"range":[293,196],"nice":false,"zero":false},"axis":null}}},
{"data":{"name":"fit"},
 "mark":{"type":"line","color":"#FF0000","strokeWidth":2.5},
 "encoding":{"x":{"field":"l","type":"quantitative","scale":{"domain":[476,800],"range":[856,1009],"nice":false,"zero":false},
   "axis":{"orient":"bottom","offset":-95,"values":[500,600,700,800],"tickSize":3.5,"tickWidth":1,"domainWidth":1,"labelFont":"DejaVu Sans","labelFontSize":12,"labelPadding":2,"title":"λ, nm","titleFont":"DejaVu Sans","titleFontSize":12,"titleFontWeight":"normal","titleColor":"black","titlePadding":3,"zindex":0}},
  "y":{"field":"r","type":"quantitative","scale":{"domain":[75,90],"range":[293,196],"nice":false,"zero":false},
   "axis":{"orient":"left","offset":-856,"values":[75,80,85,90],"tickSize":3.5,"tickWidth":1,"domainWidth":1,"labelFont":"DejaVu Sans","labelFontSize":12,"labelPadding":2,"title":"R, %","titleFont":"DejaVu Sans","titleFontSize":12,"titleFontWeight":"normal","titleColor":"black","titlePadding":5,"zindex":0}}}},
{"data":{"values":[{"x0":476,"x1":800,"y0":75,"y1":90}]},
 "mark":{"type":"rect","filled":false,"stroke":"black","strokeWidth":1},
 "encoding":{"x":{"field":"x0","type":"quantitative","scale":{"domain":[476,800],"range":[856,1009],"nice":false,"zero":false},"axis":null},"x2":{"field":"x1"},
  "y":{"field":"y0","type":"quantitative","scale":{"domain":[75,90],"range":[293,196],"nice":false,"zero":false},"axis":null},"y2":{"field":"y1"}}},
{"data":{"values":[{"x0":490.8,"x1":732.2,"y0":76.08,"y1":81.96}]},
 "mark":{"type":"rect","fill":"white","fillOpacity":0.85,"stroke":"#cccccc","strokeWidth":1,"cornerRadius":3},
 "encoding":{"x":{"field":"x0","type":"quantitative","scale":{"domain":[476,800],"range":[856,1009],"nice":false,"zero":false},"axis":null},"x2":{"field":"x1"},
  "y":{"field":"y0","type":"quantitative","scale":{"domain":[75,90],"range":[293,196],"nice":false,"zero":false},"axis":null},"y2":{"field":"y1"}}},
{"data":{"values":[{"l1":501.4,"l2":558.6,"r":80.41,"s":"Experiment"},{"l1":501.4,"l2":558.6,"r":77.63,"s":"Fit"}]},
 "mark":{"type":"rule","strokeWidth":2.2},
 "encoding":{"x":{"field":"l1","type":"quantitative","scale":{"domain":[476,800],"range":[856,1009],"nice":false,"zero":false},"axis":null},"x2":{"field":"l2"},
  "y":{"field":"r","type":"quantitative","scale":{"domain":[75,90],"range":[293,196],"nice":false,"zero":false},"axis":null},
  "color":{"field":"s","type":"nominal","scale":{"domain":["Experiment","Fit"],"range":["#0000FF","#FF0000"]},"legend":null}}},
{"data":{"values":[{"l":575.5,"r":80.41,"txt":"Experiment"},{"l":575.5,"r":77.63,"txt":"Fit"}]},
 "mark":{"type":"text","align":"left","baseline":"middle","font":"DejaVu Sans","fontSize":12,"color":"black"},
 "encoding":{"x":{"field":"l","type":"quantitative","scale":{"domain":[476,800],"range":[856,1009],"nice":false,"zero":false},"axis":null},
  "y":{"field":"r","type":"quantitative","scale":{"domain":[75,90],"range":[293,196],"nice":false,"zero":false},"axis":null},"text":{"field":"txt"}}},
{"data":{"values":[{"l":554.4,"r":91.08,"txt":"h"}]},
 "mark":{"type":"text","align":"left","baseline":"alphabetic","font":"DejaVu Sans","fontSize":14,"fontStyle":"italic","color":"black"},
 "encoding":{"x":{"field":"l","type":"quantitative","scale":{"domain":[476,800],"range":[856,1009],"nice":false,"zero":false},"axis":null},
  "y":{"field":"r","type":"quantitative","scale":{"domain":[75,90],"range":[293,196],"nice":false,"zero":false},"axis":null},"text":{"field":"txt"}}},
{"data":{"values":[{"l":570.4,"r":90.62,"txt":"PAAO"}]},
 "mark":{"type":"text","align":"left","baseline":"alphabetic","font":"DejaVu Sans","fontSize":10,"fontWeight":"bold","color":"black"},
 "encoding":{"x":{"field":"l","type":"quantitative","scale":{"domain":[476,800],"range":[856,1009],"nice":false,"zero":false},"axis":null},
  "y":{"field":"r","type":"quantitative","scale":{"domain":[75,90],"range":[293,196],"nice":false,"zero":false},"axis":null},"text":{"field":"txt"}}},
{"data":{"values":[{"l":639.5,"r":91.08,"txt":"=2000 nm"}]},
 "mark":{"type":"text","align":"left","baseline":"alphabetic","font":"DejaVu Sans","fontSize":14,"color":"black"},
 "encoding":{"x":{"field":"l","type":"quantitative","scale":{"domain":[476,800],"range":[856,1009],"nice":false,"zero":false},"axis":null},
  "y":{"field":"r","type":"quantitative","scale":{"domain":[75,90],"range":[293,196],"nice":false,"zero":false},"axis":null},"text":{"field":"txt"}}},
{"data":{"values":[{"t":-634.3,"h":1478,"txt":"h"}]},
 "mark":{"type":"text","align":"left","baseline":"alphabetic","angle":270,"font":"Liberation Sans","fontSize":19,"fontStyle":"italic","color":"black"},
 "encoding":{"x":{"field":"t","type":"quantitative","scale":{"domain":[0,3600],"range":[618,1021],"nice":false,"zero":false},"axis":null},
  "y":{"field":"h","type":"quantitative","scale":{"domain":[0,4000],"range":[330,8],"nice":false,"zero":false},"axis":null},"text":{"field":"txt"}}},
{"data":{"values":[{"t":-607.4,"h":1600,"txt":"PAAO"}]},
 "mark":{"type":"text","align":"left","baseline":"alphabetic","angle":270,"font":"Liberation Sans","fontSize":12,"color":"black"},
 "encoding":{"x":{"field":"t","type":"quantitative","scale":{"domain":[0,3600],"range":[618,1021],"nice":false,"zero":false},"axis":null},
  "y":{"field":"h","type":"quantitative","scale":{"domain":[0,4000],"range":[330,8],"nice":false,"zero":false},"axis":null},"text":{"field":"txt"}}},
{"data":{"values":[{"t":-634.3,"h":2022,"txt":", nm"}]},
 "mark":{"type":"text","align":"left","baseline":"alphabetic","angle":270,"font":"Liberation Sans","fontSize":19,"color":"black"},
 "encoding":{"x":{"field":"t","type":"quantitative","scale":{"domain":[0,3600],"range":[618,1021],"nice":false,"zero":false},"axis":null},
  "y":{"field":"h","type":"quantitative","scale":{"domain":[0,4000],"range":[330,8],"nice":false,"zero":false},"axis":null},"text":{"field":"txt"}}},
{"data":{"values":[{"t":1688.4,"h":-608.7,"txt":"t"}]},
 "mark":{"type":"text","align":"left","baseline":"alphabetic","font":"Liberation Sans","fontSize":19,"fontStyle":"italic","color":"black"},
 "encoding":{"x":{"field":"t","type":"quantitative","scale":{"domain":[0,3600],"range":[618,1021],"nice":false,"zero":false},"axis":null},
  "y":{"field":"h","type":"quantitative","scale":{"domain":[0,4000],"range":[330,8],"nice":false,"zero":false},"axis":null},"text":{"field":"txt"}}},
{"data":{"values":[{"t":1741.9,"h":-608.7,"txt":", s"}]},
 "mark":{"type":"text","align":"left","baseline":"alphabetic","font":"Liberation Sans","fontSize":19,"color":"black"},
 "encoding":{"x":{"field":"t","type":"quantitative","scale":{"domain":[0,3600],"range":[618,1021],"nice":false,"zero":false},"axis":null},
  "y":{"field":"h","type":"quantitative","scale":{"domain":[0,4000],"range":[330,8],"nice":false,"zero":false},"axis":null},"text":{"field":"txt"}}},
{"data":{"values":[{"t":-652.1,"h":3643.5,"txt":"b)"}]},
 "mark":{"type":"text","align":"left","baseline":"alphabetic","font":"Liberation Sans","fontSize":26,"fontWeight":"bold","color":"black"},
 "encoding":{"x":{"field":"t","type":"quantitative","scale":{"domain":[0,3600],"range":[618,1021],"nice":false,"zero":false},"axis":null},
  "y":{"field":"h","type":"quantitative","scale":{"domain":[0,4000],"range":[330,8],"nice":false,"zero":false},"axis":null},"text":{"field":"txt"}}}
],
"resolve":{"scale":{"x":"independent","y":"independent","color":"independent"},"axis":{"x":"independent","y":"independent"}}
}
